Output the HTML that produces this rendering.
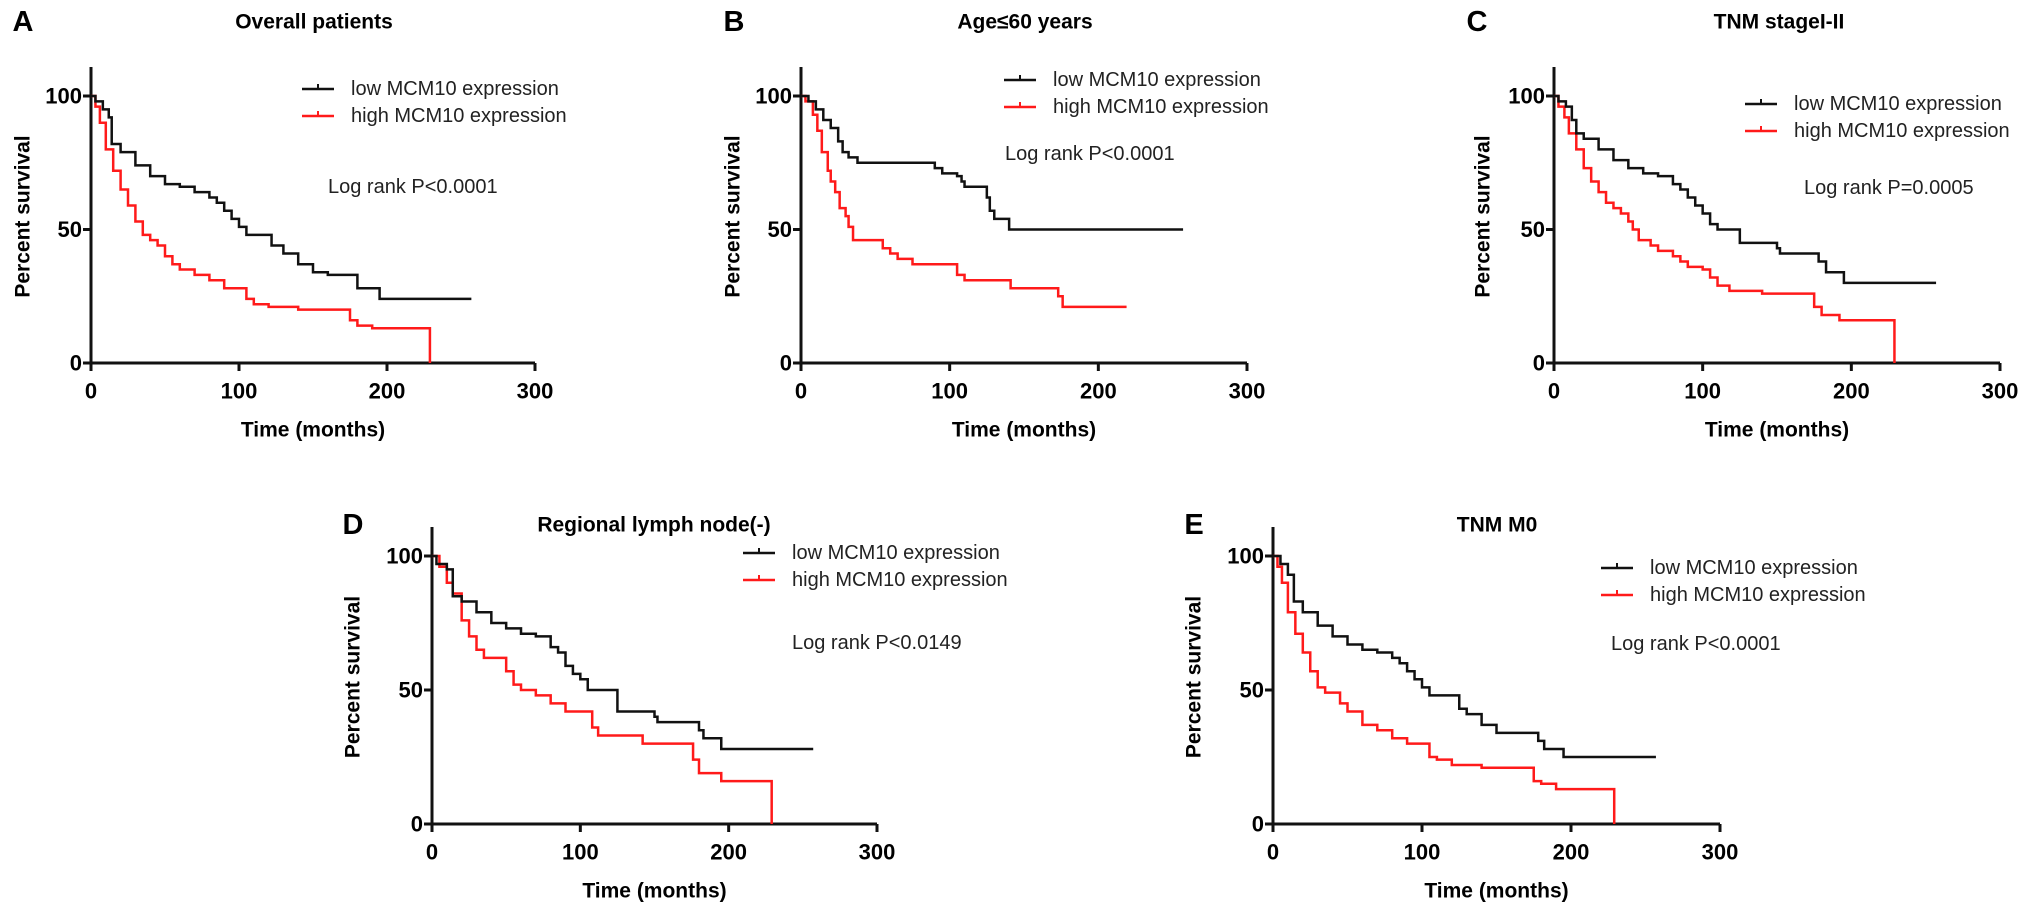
<!DOCTYPE html>
<html><head><meta charset="utf-8"><style>
html,body{margin:0;padding:0;background:#fff}
svg{display:block;font-family:"Liberation Sans",Arial,sans-serif}
.t{font-weight:bold;font-size:21px}
.tick{font-weight:bold;font-size:22px}
.lg{font-size:20px}
</style></head><body>
<svg id="fig" width="2031" height="922" viewBox="0 0 2031 922" xmlns="http://www.w3.org/2000/svg"></svg>
<script>
const xTicks=[0,100,200,300];
const yTicks=[0,50,100];
const panelIds=["A","B","C","D","E"];
const titles=["Overall patients","Age≤60 years","TNM stageI-II","Regional lymph node(-)","TNM M0"];
const pvals=["Log rank P<0.0001","Log rank P<0.0001","Log rank P=0.0005","Log rank P<0.0149","Log rank P<0.0001"];
const lowA=[[0,100],[3,98],[8,95],[12,92],[14,82],[20,79],[30,74],[40,70],[50,67],[60,66],[70,64],[80,62],[85,60],[90,57],[95,54],[100,51],[105,48],[118,48],[122,44],[130,41],[140,37],[150,34],[160,33],[175,33],[180,28],[195,24],[257,24]];
const highA=[[0,100],[3,96],[6,90],[10,80],[15,72],[20,65],[25,59],[30,53],[35,48],[40,46],[45,44],[50,40],[55,37],[60,35],[70,33],[80,31],[90,28],[100,28],[105,24],[110,22],[120,21],[140,20],[170,20],[175,16],[180,14],[190,13],[229,13],[229,0]];
const lowB=[[0,100],[5,98],[10,95],[15,91],[20,88],[25,83],[28,79],[32,77],[38,75],[85,75],[90,73],[95,71],[105,70],[108,68],[110,66],[123,66],[125,62],[127,57],[130,54],[140,50],[257,50]];
const highB=[[0,100],[3,98],[8,93],[11,87],[14,79],[18,72],[20,68],[23,64],[26,58],[30,55],[32,51],[35,46],[52,46],[55,43],[60,41],[65,39],[75,37],[103,37],[105,33],[110,31],[140,31],[141,28],[170,28],[173,25],[176,21],[219,21]];
const lowC=[[0,100],[3,98],[8,96],[12,91],[15,86],[20,84],[30,80],[40,76],[50,73],[60,71],[70,70],[80,67],[85,65],[90,62],[95,59],[100,56],[105,52],[110,50],[123,50],[125,45],[150,43],[152,41],[175,41],[178,38],[183,34],[195,30],[257,30]];
const highC=[[0,100],[3,96],[7,92],[10,86],[15,80],[20,73],[25,68],[30,64],[35,60],[40,58],[45,56],[50,53],[53,50],[57,46],[65,44],[70,42],[80,40],[85,38],[90,36],[100,35],[105,32],[110,29],[118,27],[140,26],[170,26],[175,21],[180,18],[192,16],[229,16],[229,0]];
const lowD=[[0,100],[3,97],[10,95],[14,85],[20,83],[30,79],[40,75],[50,73],[60,71],[70,70],[80,66],[85,64],[90,59],[95,56],[100,54],[105,50],[120,50],[125,42],[150,40],[152,38],[175,38],[180,35],[183,32],[195,28],[257,28]];
const highD=[[0,100],[5,96],[10,90],[14,86],[20,76],[25,70],[30,65],[35,62],[50,57],[55,52],[60,50],[70,48],[80,45],[90,42],[104,42],[108,36],[112,33],[140,33],[142,30],[172,30],[176,24],[180,19],[195,16],[229,16],[229,0]];
const lowE=[[0,100],[5,97],[10,93],[14,83],[20,79],[30,74],[40,70],[50,67],[60,65],[70,64],[80,62],[85,60],[90,57],[95,54],[100,51],[105,48],[122,48],[125,43],[130,41],[140,37],[150,34],[175,34],[178,31],[182,28],[195,25],[257,25]];
const highE=[[0,100],[3,96],[6,90],[10,79],[15,71],[20,64],[25,57],[30,51],[35,49],[45,45],[50,42],[60,37],[70,35],[80,32],[90,30],[100,30],[105,25],[110,24],[120,22],[140,21],[170,21],[175,16],[180,15],[190,13],[229,13],[229,0]];
const lowSeries=[lowA,lowB,lowC,lowD,lowE];
const highSeries=[highA,highB,highC,highD,highE];

const L=[
 {ax:91,x3:535,y100:96,y0:363,top:67,lblX:23,lblY:22,tY:22,tX:314,legX:302,legY:89,logX:328,logY:187,ylX:23},
 {ax:801,x3:1247,y100:96,y0:363,top:67,lblX:734,lblY:22,tY:22,tX:1025,legX:1004,legY:80,logX:1005,logY:154,ylX:733},
 {ax:1554,x3:2000,y100:96,y0:363,top:67,lblX:1477,lblY:22,tY:22,tX:1779,legX:1745,legY:104,logX:1804,logY:188,ylX:1483},
 {ax:432,x3:877,y100:556,y0:824,top:527,lblX:353,lblY:525,tY:525,tX:654,legX:743,legY:553,logX:792,logY:643,ylX:353},
 {ax:1273,x3:1720,y100:556,y0:824,top:527,lblX:1194,lblY:525,tY:525,tX:1497,legX:1601,legY:568,logX:1611,logY:644,ylX:1194}
];
const NS="http://www.w3.org/2000/svg";
const svg=document.getElementById('fig');
function mk(tag,attrs,parent){const e=document.createElementNS(NS,tag);for(const k in attrs)e.setAttribute(k,attrs[k]);(parent||svg).appendChild(e);return e;}
function stepPath(data,sx,sy){let d="M"+sx(data[0][0])+","+sy(data[0][1]);for(let i=1;i<data.length;i++){d+=" H"+sx(data[i][0])+" V"+sy(data[i][1]);}return d;}
L.forEach((p,i)=>{
  const g=mk('g',{});
  
  
  const sx=v=>p.ax+(p.x3-p.ax)*v/300;
  const sy=v=>p.y0-(p.y0-p.y100)*v/100;
  const lb=mk('text',{x:p.lblX,y:p.lblY,'font-size':29,'font-weight':'bold','text-anchor':'middle','dominant-baseline':'central'},g);lb.textContent=panelIds[i];
  
  
  const tt=mk('text',{x:p.tX,y:p.tY,class:'t','text-anchor':'middle','dominant-baseline':'central'},g);tt.textContent=titles[i];
  
  
  const ya=mk('line',{x1:p.ax,y1:p.top,x2:p.ax,y2:p.y0+1.5,stroke:'#111','stroke-width':3},g);
  
  
  const xa=mk('line',{x1:p.ax-1.5,y1:p.y0,x2:p.x3,y2:p.y0,stroke:'#111','stroke-width':3},g);
  
  
  xTicks.forEach(v=>{
    mk('line',{x1:sx(v),y1:p.y0,x2:sx(v),y2:p.y0+8,stroke:'#111','stroke-width':3},g);
    const t=mk('text',{x:sx(v),y:p.y0+28,class:'tick','text-anchor':'middle','dominant-baseline':'central'},g);t.textContent=v;
    
    
  });
  yTicks.forEach(v=>{
    mk('line',{x1:p.ax-8,y1:sy(v),x2:p.ax,y2:sy(v),stroke:'#111','stroke-width':3},g);
    const t=mk('text',{x:p.ax-9,y:sy(v),class:'tick','text-anchor':'end','dominant-baseline':'central'},g);t.textContent=v;
    
    
  });
  const xl=mk('text',{x:(p.ax+p.x3)/2,y:p.y0+67,class:'t','font-size':23,'text-anchor':'middle','dominant-baseline':'central'},g);xl.textContent="Time  (months)";
  
  
  const cy=(p.y0+p.y100)/2-13;
  const yl=mk('text',{x:p.ylX,y:cy,class:'t','font-size':23,'text-anchor':'middle','dominant-baseline':'central',transform:'rotate(-90 '+p.ylX+' '+cy+')'},g);yl.textContent="Percent survival";
  
  
  const hl=mk('path',{d:stepPath(highSeries[i],sx,sy),fill:'none',stroke:'#ff1a1a','stroke-width':2.5},g);
  
  
  const ll=mk('path',{d:stepPath(lowSeries[i],sx,sy),fill:'none',stroke:'#111','stroke-width':2.5},g);
  
  
  [['low MCM10 expression','#111',0],['high MCM10 expression','#ff1a1a',27]].forEach(e=>{
    const lg=mk('g',{},g);
    
    
    mk('line',{x1:p.legX,y1:p.legY+e[2],x2:p.legX+32,y2:p.legY+e[2],stroke:e[1],'stroke-width':2.5},lg);
    mk('line',{x1:p.legX+16,y1:p.legY+e[2]-5,x2:p.legX+16,y2:p.legY+e[2],stroke:e[1],'stroke-width':2},lg);
    const t=mk('text',{x:p.legX+49,y:p.legY+e[2],class:'lg','dominant-baseline':'central',fill:'#222'},lg);t.textContent=e[0];
  });
  const lr=mk('text',{x:p.logX,y:p.logY,class:'lg','dominant-baseline':'central',fill:'#222'},g);lr.textContent=pvals[i];
  
  
});
</script>
</body></html>
